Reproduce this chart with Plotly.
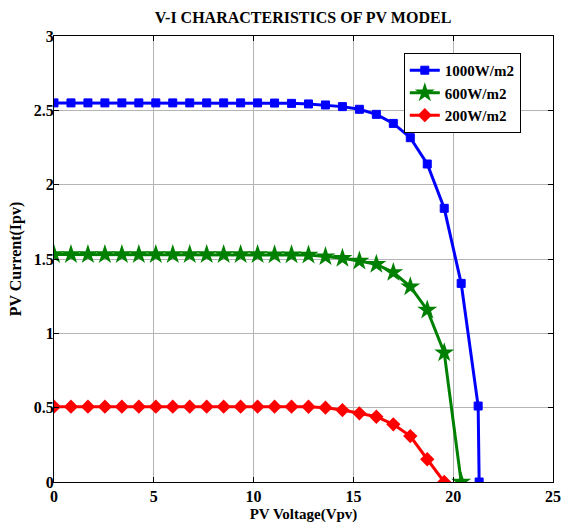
import plotly.graph_objects as go

# Data
voltage = [0, 0.85, 1.7, 2.55, 3.4, 4.25, 5.1, 5.95, 6.8, 7.65, 8.5, 9.35, 10.2,
           11.05, 11.9, 12.75, 13.6, 14.45, 15.3, 16.15, 17.0, 17.85, 18.7, 19.55,
           20.4, 21.25, 21.3]

current_1000 = [2.55, 2.55, 2.55, 2.55, 2.55, 2.55, 2.55, 2.55, 2.55, 2.55, 2.55, 2.55,
                2.55, 2.549, 2.547, 2.543, 2.536, 2.525, 2.507, 2.473, 2.412, 2.316,
                2.139, 1.841, 1.336, 0.511, 0.0]
current_600 = [1.53, 1.53, 1.53, 1.53, 1.53, 1.53, 1.53, 1.53, 1.53, 1.53, 1.53, 1.53,
               1.53, 1.529, 1.528, 1.527, 1.516, 1.505, 1.487, 1.464, 1.410, 1.314,
               1.157, 0.870, 0.0]
current_200 = [0.507, 0.507, 0.507, 0.507, 0.507, 0.507, 0.507, 0.507, 0.507, 0.507,
               0.507, 0.507, 0.507, 0.507, 0.507, 0.506, 0.500, 0.484, 0.462, 0.439,
               0.388, 0.309, 0.153, 0.0]

series_names = ["1000W/m2", "600W/m2", "200W/m2"]
x_ticks = [0, 5, 10, 15, 20, 25]
y_ticks = [0, 0.5, 1, 1.5, 2, 2.5, 3]

FONT = "Liberation Serif, Times New Roman, serif"

fig = go.Figure()
fig.add_trace(go.Scatter(
    x=voltage[:len(current_1000)], y=current_1000, name=series_names[0],
    mode="lines+markers",
    line=dict(color="#0000FF", width=3),
    marker=dict(symbol="square", size=8, color="#0000FF",
                line=dict(color="#0000FF", width=1)),
))
fig.add_trace(go.Scatter(
    x=voltage[:len(current_600)], y=current_600, name=series_names[1],
    mode="lines+markers",
    line=dict(color="#008000", width=3),
    marker=dict(symbol="star", size=15, color="#008000",
                line=dict(color="#008000", width=0)),
))
fig.add_trace(go.Scatter(
    x=voltage[:len(current_200)], y=current_200, name=series_names[2],
    mode="lines+markers",
    line=dict(color="#FF0000", width=3),
    marker=dict(symbol="diamond", size=11, color="#FF0000",
                line=dict(color="#FF0000", width=0)),
))

axis_common = dict(
    showgrid=True, gridcolor="#b4b4b4", gridwidth=1,
    showline=True, linecolor="black", linewidth=1, mirror="ticks",
    ticks="inside", ticklen=5, tickcolor="black",
    zeroline=False, automargin=False,
    tickfont=dict(family=FONT, size=16, color="black", weight="bold"),
)

W, H = 561, 526

fig.update_layout(
    width=W, height=H,
    paper_bgcolor="white", plot_bgcolor="white",
    margin=dict(l=54, r=8, t=36, b=44, autoexpand=False),
    title=dict(text="V-I CHARACTERISTICS OF PV MODEL",
               font=dict(family=FONT, size=16, color="black", weight="bold"),
               xref="container", yref="container",
               x=303 / W, xanchor="center", y=1 - 17 / H, yanchor="middle"),
    xaxis=dict(range=[0, 25], tickvals=x_ticks, ticktext=[str(v) for v in x_ticks],
               title=dict(text="PV Voltage(Vpv)", standoff=4,
                          font=dict(family=FONT, size=15, color="black", weight="bold")),
               **axis_common),
    yaxis=dict(range=[0, 3], tickvals=y_ticks, ticktext=[f"{v:g}" for v in y_ticks],
               ticklabelstandoff=-4,
               title=dict(text="PV Current(Ipv)", standoff=8,
                          font=dict(family=FONT, size=16, color="black", weight="bold")),
               **axis_common),
    legend=dict(x=0.701, y=0.962, xanchor="left", yanchor="top",
                bgcolor="white", bordercolor="black", borderwidth=1,
                font=dict(family=FONT, size=15, color="black", weight="bold"),
                itemwidth=30),
    showlegend=True,
)

fig.write_html(
    "out.html",
    config={"displayModeBar": False},
    post_script="document.body.style.margin='0';document.body.style.overflow='hidden';",
)
